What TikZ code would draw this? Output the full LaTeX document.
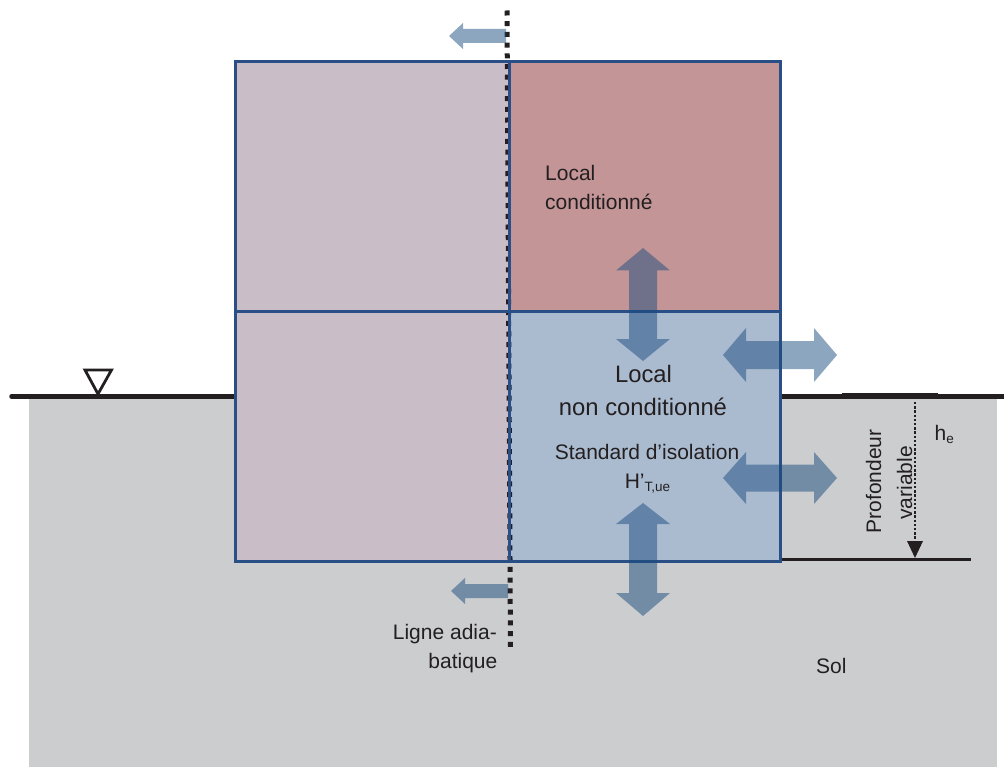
\documentclass[tikz,border=0pt]{standalone}
\usepackage{fontspec}
\setmainfont{Liberation Sans}
\definecolor{edgeblue}{HTML}{2A4F86}
\definecolor{leftroom}{HTML}{C9BEC8}
\definecolor{hotroom}{HTML}{C49597}
\definecolor{coldroom}{HTML}{AABBD0}
\definecolor{soil}{HTML}{CBCDCF}
\definecolor{ink}{HTML}{231F20}
\definecolor{flow}{RGB}{27,77,127}
\newcommand{\lbl}{\fontsize{21}{25}\selectfont}
\newcommand{\lblbig}{\fontsize{23.8}{28}\selectfont}
\newcommand{\lblsub}{\fontsize{13.5}{16}\selectfont}
\tikzset{
  x=1pt,y=-1pt,
  room/.style={draw=edgeblue,line width=3pt},
  flowarrow/.style={fill=flow,fill opacity=0.5,draw=none},
  ground/.style={draw=ink,line width=4.5pt},
  label/.style={text=ink,inner sep=0pt,align=center},
  adiabatic/.style={draw=ink,line width=5pt,dash pattern=on 5pt off 5.7pt},
}
\begin{document}
\begin{tikzpicture}
\useasboundingbox (0,0) rectangle (1004,767);
% soil
\fill[soil] (29,398) rectangle (997,767);
% ground lines
\draw[ground,line cap=round] (11.5,396.5) -- (235,396.5);
\draw[ground] (780,396.5) -- (1004,396.5);
\draw[draw=ink,line width=5.5pt] (842,396) -- (938,396);
\draw[draw=ink,line width=2.2pt] (780,559.5) -- (971,559.5);
\draw[draw=ink,line width=2.4pt] (842,560) -- (938,560);
% level mark
\draw[draw=ink,line width=2.8pt,fill=white,line join=miter] (85,370) -- (111.5,370) -- (98,394) -- cycle;
% rooms
\fill[leftroom] (235,62) rectangle (509,561);
\fill[hotroom] (509,62) rectangle (780,312);
\fill[coldroom] (509,312) rectangle (780,561);
% adiabatic line
\draw[adiabatic] (507,10.5) -- (510.5,651);
% room outlines
\draw[room] (235,62) rectangle (780,561);
\draw[room] (235,312) -- (780,312);
\draw[room] (509,62) -- (509,561);
% flow arrows
\fill[flowarrow] (449,36) -- (463,23) -- (463,29) -- (506,29) -- (506,43) -- (463,43) -- (463,49) -- cycle;
\fill[flowarrow] (451,591) -- (465,578) -- (465,584) -- (508,584) -- (508,598) -- (465,598) -- (465,604) -- cycle;
\fill[flowarrow] (643,248) -- (670,270.5) -- (657,270.5) -- (657,339) -- (670,339) -- (643,361) -- (616,339) -- (629,339) -- (629,270.5) -- (616,270.5) -- cycle;
\fill[flowarrow] (643,503) -- (670,524) -- (657,524) -- (657,593) -- (670,593) -- (643,616) -- (616,593) -- (629,593) -- (629,524) -- (616,524) -- cycle;
\fill[flowarrow] (723,355) -- (746,328) -- (746,341) -- (814,341) -- (814,328) -- (837,355) -- (814,382) -- (814,369) -- (746,369) -- (746,382) -- cycle;
\fill[flowarrow] (723,478) -- (746,452) -- (746,464.5) -- (814,464.5) -- (814,452) -- (837,478) -- (814,504) -- (814,491.5) -- (746,491.5) -- (746,504) -- cycle;
% depth arrow
\coordinate (depthtop) at (915,402);
\coordinate (depthend) at (915,542);
\draw[draw=ink,line width=2.4pt,dash pattern=on 2.4pt off 1.8pt] (depthtop) -- (depthend);
\fill[ink] (907,541) -- (923,541) -- (915,558) -- cycle;
% texts
\node[label,anchor=base west] (lc1) at (545,180.5) {\lbl Local};
\node[label,anchor=base west] (lc2) at (545,209.5) {\lbl conditionné};
\node[label,anchor=base] (ln1) at (643.5,382.5) {\lblbig Local};
\node[label,anchor=base] (ln2) at (643,415.5) {\lblbig non conditionné};
\node[label,anchor=base] (std) at (647,459) {\lbl Standard d’isolation};
\node[label,anchor=base] (ht) at (647.5,488) {\lbl H’\raisebox{-3.5pt}{\lblsub T,ue}};
\node[label,anchor=base east] (la1) at (497,639) {\lbl Ligne adia-};
\node[label,anchor=base east] (la2) at (497.5,668) {\lbl batique};
\node[label,anchor=base west] (sol) at (816,673) {\lbl Sol};
\node[label,anchor=base west] (he) at (934.5,440) {\lbl h\raisebox{-3.5pt}{\lblsub e}};
\node[label,anchor=base,rotate=90] (prof) at (881,481.5) {\lbl Profondeur};
\node[label,anchor=base,rotate=90] (var) at (912,483) {\lbl variable};
\end{tikzpicture}
\end{document}
